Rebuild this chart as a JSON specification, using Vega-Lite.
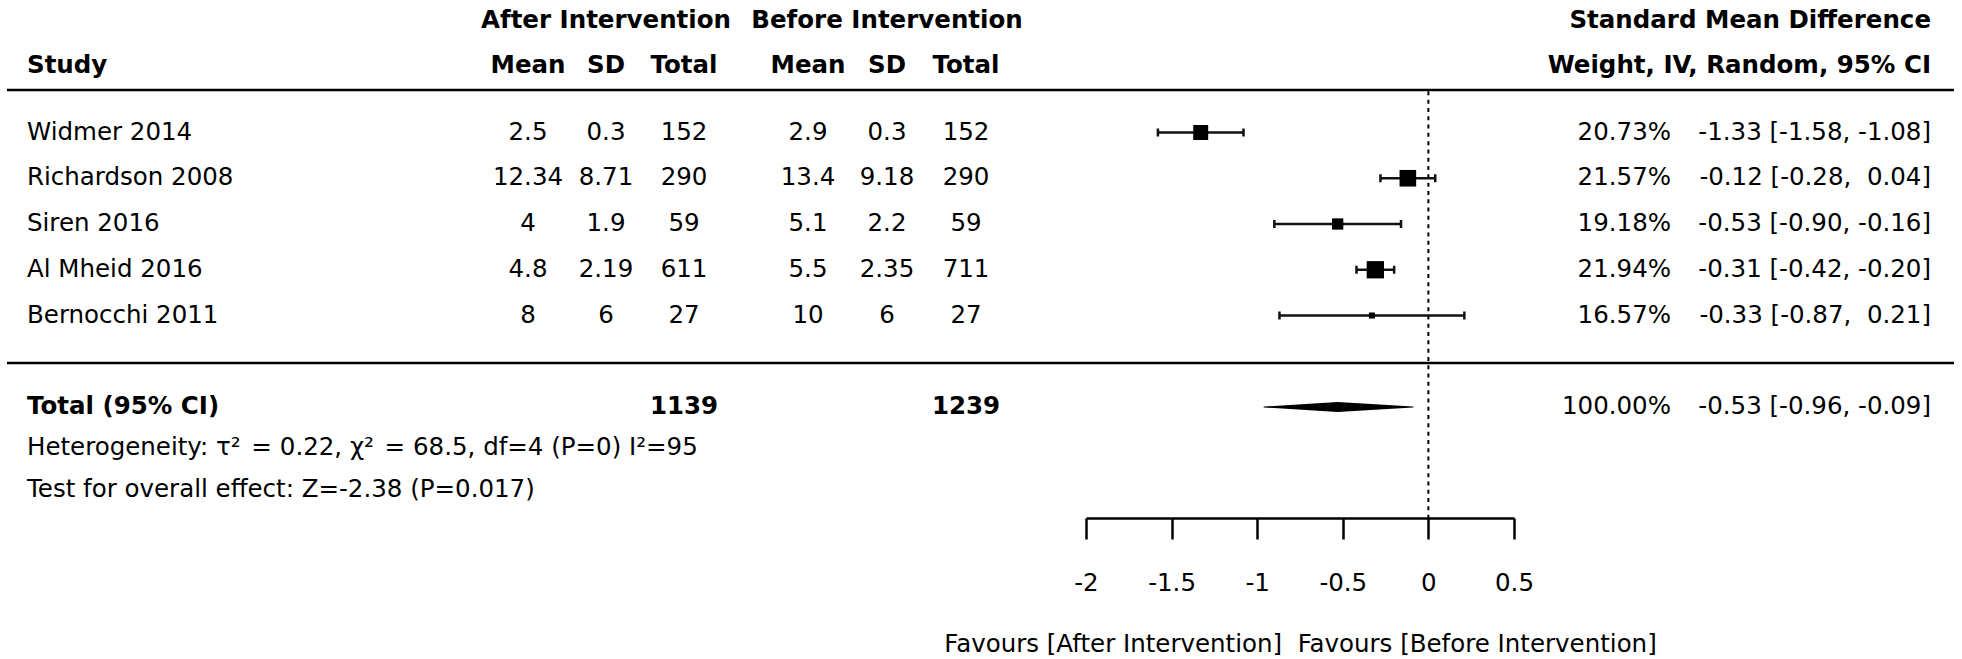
{
  "$schema": "https://vega.github.io/schema/vega-lite/v6.json",
  "width": 1962,
  "height": 518,
  "padding": 0,
  "autosize": {"type": "pad"},
  "background": "white",
  "config": {
    "view": {"stroke": null},
    "text": {"font": "DejaVu Sans", "fontSize": 24.5, "color": "black"}
  },
  "datasets": {
    "studies": [
      {"study": "Widmer 2014", "row": 1, "mean_a": 2.5, "sd_a": 0.3, "n_a": 152, "mean_b": 2.9, "sd_b": 0.3, "n_b": 152, "smd": -1.33, "lower": -1.58, "upper": -1.08, "weight": 0.2073, "ci": "-1.33 [-1.58, -1.08]"},
      {"study": "Richardson 2008", "row": 2, "mean_a": 12.34, "sd_a": 8.71, "n_a": 290, "mean_b": 13.4, "sd_b": 9.18, "n_b": 290, "smd": -0.12, "lower": -0.28, "upper": 0.04, "weight": 0.2157, "ci": "-0.12 [-0.28,\u00a0 0.04]"},
      {"study": "Siren 2016", "row": 3, "mean_a": 4, "sd_a": 1.9, "n_a": 59, "mean_b": 5.1, "sd_b": 2.2, "n_b": 59, "smd": -0.53, "lower": -0.9, "upper": -0.16, "weight": 0.1918, "ci": "-0.53 [-0.90, -0.16]"},
      {"study": "Al Mheid 2016", "row": 4, "mean_a": 4.8, "sd_a": 2.19, "n_a": 611, "mean_b": 5.5, "sd_b": 2.35, "n_b": 711, "smd": -0.31, "lower": -0.42, "upper": -0.2, "weight": 0.2194, "ci": "-0.31 [-0.42, -0.20]"},
      {"study": "Bernocchi 2011", "row": 5, "mean_a": 8, "sd_a": 6, "n_a": 27, "mean_b": 10, "sd_b": 6, "n_b": 27, "smd": -0.33, "lower": -0.87, "upper": 0.21, "weight": 0.1657, "ci": "-0.33 [-0.87,\u00a0 0.21]"}
    ],
    "summary": [
      {"label": "Total (95% CI)", "row": 7, "n_a": 1139, "n_b": 1239, "smd": -0.53, "lower": -0.96, "upper": -0.09, "weight": 1.0, "ci": "-0.53 [-0.96, -0.09]"}
    ],
    "notes": [
      {"line": 1, "text": "Heterogeneity: τ²\u200a\u2004=\u20040.22, χ²\u200a\u2004=\u200468.5, df=4 (P=0) I²=95"},
      {"line": 2, "text": "Test for overall effect: Z=-2.38 (P=0.017)"}
    ],
    "headers": [
      {"line": 1, "group": "after", "col": "sd_a", "text": "After Intervention"},
      {"line": 1, "group": "before", "col": "sd_b", "text": "Before Intervention"},
      {"line": 1, "group": "right", "col": "ci", "text": "Standard Mean Difference"},
      {"line": 2, "group": "left", "col": "name", "text": "Study"},
      {"line": 2, "group": "after", "col": "mean_a", "text": "Mean"},
      {"line": 2, "group": "after", "col": "sd_a", "text": "SD"},
      {"line": 2, "group": "after", "col": "n_a", "text": "Total"},
      {"line": 2, "group": "before", "col": "mean_b", "text": "Mean"},
      {"line": 2, "group": "before", "col": "sd_b", "text": "SD"},
      {"line": 2, "group": "before", "col": "n_b", "text": "Total"},
      {"line": 2, "group": "right", "col": "ci", "text": "Weight, IV, Random, 95% CI"}
    ],
    "separators": [
      {"sep": "header"},
      {"sep": "summary"}
    ],
    "reference": [
      {"smd": 0}
    ]
  },
  "resolve": {
    "scale": {"x": "independent", "y": "independent", "size": "independent"},
    "axis": {"x": "independent", "y": "independent"},
    "legend": {"size": "independent"}
  },
  "layer": [
    {
      "data": {"name": "separators"},
      "mark": {"type": "rule", "strokeWidth": 2.5, "color": "black"},
      "encoding": {
        "x": {"datum": "start", "type": "nominal", "scale": {"type": "point", "domain": ["start", "end"], "range": [7, 1954], "padding": 0}, "axis": null},
        "x2": {"datum": "end"},
        "y": {"field": "sep", "type": "nominal", "scale": {"type": "point", "domain": ["header", "summary"], "range": [90, 363], "padding": 0}, "axis": null}
      }
    },
    {
      "data": {"name": "reference"},
      "mark": {"type": "rule", "strokeWidth": 2, "strokeDash": [4, 4.3], "color": "black"},
      "encoding": {
        "x": {"field": "smd", "type": "quantitative", "scale": {"domain": [-2, 0.5], "range": [1086, 1514], "zero": false, "nice": false}, "axis": null},
        "y": {"datum": 0.1, "type": "quantitative", "scale": {"domain": [1, 7], "range": [132.5, 407], "zero": false, "nice": false}, "axis": null},
        "y2": {"datum": 9.44}
      }
    },
    {
      "data": {"name": "studies"},
      "mark": {"type": "rule", "strokeWidth": 2.5, "color": "#111"},
      "encoding": {
        "x": {"field": "lower", "type": "quantitative", "scale": {"domain": [-2, 0.5], "range": [1086, 1514], "zero": false, "nice": false}, "axis": null},
        "x2": {"field": "upper"},
        "y": {"field": "row", "type": "quantitative", "scale": {"domain": [1, 7], "range": [132.5, 407], "zero": false, "nice": false}, "axis": null}
      }
    },
    {
      "data": {"name": "studies"},
      "transform": [{"fold": ["lower", "upper"], "as": ["end", "val"]}],
      "mark": {"type": "tick", "orient": "vertical", "size": 8, "thickness": 2.5, "color": "#111", "opacity": 1},
      "encoding": {
        "x": {"field": "val", "type": "quantitative", "scale": {"domain": [-2, 0.5], "range": [1086, 1514], "zero": false, "nice": false}, "axis": null},
        "y": {"field": "row", "type": "quantitative", "scale": {"domain": [1, 7], "range": [132.5, 407], "zero": false, "nice": false}, "axis": null}
      }
    },
    {
      "data": {"name": "studies"},
      "mark": {"type": "point", "shape": "square", "filled": true, "color": "black", "opacity": 1, "strokeWidth": 0},
      "encoding": {
        "x": {
          "field": "smd", "type": "quantitative",
          "scale": {"domain": [-2, 0.5], "range": [1086, 1514], "zero": false, "nice": false},
          "axis": {
            "values": [-2, -1.5, -1, -0.5, 0, 0.5],
            "labelExpr": "'' + datum.value",
            "grid": false,
            "domainColor": "black", "domainWidth": 2.5,
            "tickColor": "black", "tickWidth": 2.5, "tickSize": 21,
            "labelFont": "DejaVu Sans", "labelFontSize": 24.5, "labelColor": "black",
            "labelPadding": 32, "labelFlush": false, "labelOverlap": false,
            "title": "Favours [After Intervention]\u00a0 Favours [Before Intervention]",
            "titleFont": "DejaVu Sans", "titleFontSize": 24.5, "titleFontWeight": "normal", "titleColor": "black",
            "titleBaseline": "alphabetic", "titleY": 133
          }
        },
        "y": {"field": "row", "type": "quantitative", "scale": {"domain": [1, 7], "range": [132.5, 407], "zero": false, "nice": false}, "axis": null},
        "size": {"field": "weight", "type": "quantitative", "scale": {"domain": [0.1657, 0.1918, 0.2194], "range": [36, 128, 299], "zero": false, "nice": false}, "legend": null}
      }
    },
    {
      "data": {"name": "summary"},
      "transform": [{"fold": ["lower", "smd", "upper"], "as": ["part", "val"]}],
      "mark": {"type": "trail", "color": "black", "opacity": 1},
      "encoding": {
        "x": {"field": "val", "type": "quantitative", "scale": {"domain": [-2, 0.5], "range": [1086, 1514], "zero": false, "nice": false}, "axis": null},
        "y": {"field": "row", "type": "quantitative", "scale": {"domain": [1, 7], "range": [132.5, 407], "zero": false, "nice": false}, "axis": null},
        "size": {"field": "part", "type": "nominal", "scale": {"type": "ordinal", "domain": ["lower", "smd", "upper"], "range": [0, 10, 0]}, "legend": null},
        "order": {"field": "val", "type": "quantitative"}
      }
    },
    {
      "data": {"name": "studies"},
      "mark": {"type": "text", "align": "left"},
      "encoding": {
        "x": {"datum": "name", "type": "nominal", "scale": {"type": "point", "domain": ["name"], "range": [27, 27], "padding": 0}, "axis": null},
        "y": {"field": "row", "type": "quantitative", "scale": {"domain": [1, 7], "range": [132.5, 407], "zero": false, "nice": false}, "axis": null},
        "text": {"field": "study", "type": "nominal"}
      }
    },
    {
      "data": {"name": "summary"},
      "mark": {"type": "text", "align": "left", "fontWeight": "bold"},
      "encoding": {
        "x": {"datum": "name", "type": "nominal", "scale": {"type": "point", "domain": ["name"], "range": [27, 27], "padding": 0}, "axis": null},
        "y": {"field": "row", "type": "quantitative", "scale": {"domain": [1, 7], "range": [132.5, 407], "zero": false, "nice": false}, "axis": null},
        "text": {"field": "label", "type": "nominal"}
      }
    },
    {
      "data": {"name": "notes"},
      "mark": {"type": "text", "align": "left"},
      "encoding": {
        "x": {"datum": "name", "type": "nominal", "scale": {"type": "point", "domain": ["name"], "range": [27, 27], "padding": 0}, "axis": null},
        "y": {"field": "line", "type": "quantitative", "scale": {"domain": [1, 2], "range": [447.5, 489.5], "zero": false, "nice": false}, "axis": null},
        "text": {"field": "text", "type": "nominal"}
      }
    },
    {
      "data": {"name": "studies"},
      "transform": [{"fold": ["mean_a", "sd_a", "n_a"], "as": ["col", "value"]}],
      "mark": {"type": "text", "align": "center"},
      "encoding": {
        "x": {"field": "col", "type": "nominal", "scale": {"type": "point", "domain": ["mean_a", "sd_a", "n_a"], "range": [528, 684], "padding": 0}, "axis": null},
        "y": {"field": "row", "type": "quantitative", "scale": {"domain": [1, 7], "range": [132.5, 407], "zero": false, "nice": false}, "axis": null},
        "text": {"field": "value", "type": "nominal"}
      }
    },
    {
      "data": {"name": "studies"},
      "transform": [{"fold": ["mean_b", "sd_b", "n_b"], "as": ["col", "value"]}],
      "mark": {"type": "text", "align": "center"},
      "encoding": {
        "x": {"field": "col", "type": "nominal", "scale": {"type": "point", "domain": ["mean_b", "sd_b", "n_b"], "range": [808, 966], "padding": 0}, "axis": null},
        "y": {"field": "row", "type": "quantitative", "scale": {"domain": [1, 7], "range": [132.5, 407], "zero": false, "nice": false}, "axis": null},
        "text": {"field": "value", "type": "nominal"}
      }
    },
    {
      "data": {"name": "summary"},
      "mark": {"type": "text", "align": "center", "fontWeight": "bold"},
      "encoding": {
        "x": {"datum": "n_a", "type": "nominal", "scale": {"type": "point", "domain": ["mean_a", "sd_a", "n_a"], "range": [528, 684], "padding": 0}, "axis": null},
        "y": {"field": "row", "type": "quantitative", "scale": {"domain": [1, 7], "range": [132.5, 407], "zero": false, "nice": false}, "axis": null},
        "text": {"field": "n_a", "type": "nominal"}
      }
    },
    {
      "data": {"name": "summary"},
      "mark": {"type": "text", "align": "center", "fontWeight": "bold"},
      "encoding": {
        "x": {"datum": "n_b", "type": "nominal", "scale": {"type": "point", "domain": ["mean_b", "sd_b", "n_b"], "range": [808, 966], "padding": 0}, "axis": null},
        "y": {"field": "row", "type": "quantitative", "scale": {"domain": [1, 7], "range": [132.5, 407], "zero": false, "nice": false}, "axis": null},
        "text": {"field": "n_b", "type": "nominal"}
      }
    },
    {
      "data": {"name": "studies"},
      "mark": {"type": "text", "align": "right"},
      "encoding": {
        "x": {"datum": "weight", "type": "nominal", "scale": {"type": "point", "domain": ["weight", "ci"], "range": [1671, 1931], "padding": 0}, "axis": null},
        "y": {"field": "row", "type": "quantitative", "scale": {"domain": [1, 7], "range": [132.5, 407], "zero": false, "nice": false}, "axis": null},
        "text": {"field": "weight", "type": "quantitative", "format": ".2%"}
      }
    },
    {
      "data": {"name": "summary"},
      "mark": {"type": "text", "align": "right"},
      "encoding": {
        "x": {"datum": "weight", "type": "nominal", "scale": {"type": "point", "domain": ["weight", "ci"], "range": [1671, 1931], "padding": 0}, "axis": null},
        "y": {"field": "row", "type": "quantitative", "scale": {"domain": [1, 7], "range": [132.5, 407], "zero": false, "nice": false}, "axis": null},
        "text": {"field": "weight", "type": "quantitative", "format": ".2%"}
      }
    },
    {
      "data": {"name": "studies"},
      "mark": {"type": "text", "align": "right"},
      "encoding": {
        "x": {"datum": "ci", "type": "nominal", "scale": {"type": "point", "domain": ["weight", "ci"], "range": [1671, 1931], "padding": 0}, "axis": null},
        "y": {"field": "row", "type": "quantitative", "scale": {"domain": [1, 7], "range": [132.5, 407], "zero": false, "nice": false}, "axis": null},
        "text": {"field": "ci", "type": "nominal"}
      }
    },
    {
      "data": {"name": "summary"},
      "mark": {"type": "text", "align": "right"},
      "encoding": {
        "x": {"datum": "ci", "type": "nominal", "scale": {"type": "point", "domain": ["weight", "ci"], "range": [1671, 1931], "padding": 0}, "axis": null},
        "y": {"field": "row", "type": "quantitative", "scale": {"domain": [1, 7], "range": [132.5, 407], "zero": false, "nice": false}, "axis": null},
        "text": {"field": "ci", "type": "nominal"}
      }
    },
    {
      "data": {"name": "headers"},
      "transform": [{"filter": "datum.group === 'left'"}],
      "mark": {"type": "text", "align": "left", "fontWeight": "bold"},
      "encoding": {
        "x": {"field": "col", "type": "nominal", "scale": {"type": "point", "domain": ["name"], "range": [27, 27], "padding": 0}, "axis": null},
        "y": {"field": "line", "type": "quantitative", "scale": {"domain": [1, 2], "range": [20.5, 65.5], "zero": false, "nice": false}, "axis": null},
        "text": {"field": "text", "type": "nominal"}
      }
    },
    {
      "data": {"name": "headers"},
      "transform": [{"filter": "datum.group === 'after'"}],
      "mark": {"type": "text", "align": "center", "fontWeight": "bold"},
      "encoding": {
        "x": {"field": "col", "type": "nominal", "scale": {"type": "point", "domain": ["mean_a", "sd_a", "n_a"], "range": [528, 684], "padding": 0}, "axis": null},
        "y": {"field": "line", "type": "quantitative", "scale": {"domain": [1, 2], "range": [20.5, 65.5], "zero": false, "nice": false}, "axis": null},
        "text": {"field": "text", "type": "nominal"}
      }
    },
    {
      "data": {"name": "headers"},
      "transform": [{"filter": "datum.group === 'before'"}],
      "mark": {"type": "text", "align": "center", "fontWeight": "bold"},
      "encoding": {
        "x": {"field": "col", "type": "nominal", "scale": {"type": "point", "domain": ["mean_b", "sd_b", "n_b"], "range": [808, 966], "padding": 0}, "axis": null},
        "y": {"field": "line", "type": "quantitative", "scale": {"domain": [1, 2], "range": [20.5, 65.5], "zero": false, "nice": false}, "axis": null},
        "text": {"field": "text", "type": "nominal"}
      }
    },
    {
      "data": {"name": "headers"},
      "transform": [{"filter": "datum.group === 'right'"}],
      "mark": {"type": "text", "align": "right", "fontWeight": "bold"},
      "encoding": {
        "x": {"field": "col", "type": "nominal", "scale": {"type": "point", "domain": ["weight", "ci"], "range": [1671, 1931], "padding": 0}, "axis": null},
        "y": {"field": "line", "type": "quantitative", "scale": {"domain": [1, 2], "range": [20.5, 65.5], "zero": false, "nice": false}, "axis": null},
        "text": {"field": "text", "type": "nominal"}
      }
    }
  ]
}
